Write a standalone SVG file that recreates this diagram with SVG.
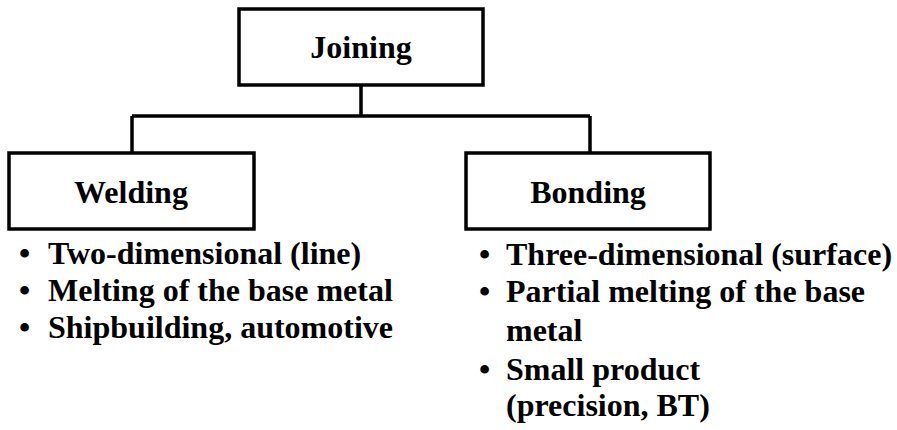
<svg xmlns="http://www.w3.org/2000/svg" width="897" height="430" viewBox="0 0 897 430">
<style>
.box{fill:#fff;stroke:#000;stroke-width:3.5}
.conn{fill:none;stroke:#000;stroke-width:3.5}
text{font-family:"Liberation Serif","Times New Roman",serif;font-weight:bold;font-size:32px;fill:#000}
.c{text-anchor:middle}
</style>
<rect width="897" height="430" fill="#fff"/>
<g id="connectors">
<path class="conn" d="M361 85 V116 M132 116 H590 M132 116 V153 M590 116 V153"/>
</g>
<g id="joining">
<rect class="box" x="239" y="9" width="244" height="76"/>
<text class="c" x="361" y="58">Joining</text>
</g>
<g id="welding">
<rect class="box" x="9" y="153" width="245" height="76"/>
<text class="c" x="131" y="203">Welding</text>
</g>
<g id="bonding">
<rect class="box" x="466" y="153" width="244" height="76"/>
<text class="c" x="588" y="203">Bonding</text>
</g>
<g id="welding-list">
<text x="19" y="264">•</text><text x="48" y="264">Two-dimensional (line)</text>
<text x="19" y="301">•</text><text x="48" y="301">Melting of the base metal</text>
<text x="19" y="338">•</text><text x="48" y="338">Shipbuilding, automotive</text>
</g>
<g id="bonding-list">
<text x="479" y="265">•</text><text x="506" y="265">Three-dimensional (surface)</text>
<text x="479" y="302">•</text><text x="506" y="302">Partial melting of the base</text>
<text x="506" y="341">metal</text>
<text x="479" y="380">•</text><text x="506" y="380">Small product</text>
<text x="506" y="416">(precision, BT)</text>
</g>
</svg>
